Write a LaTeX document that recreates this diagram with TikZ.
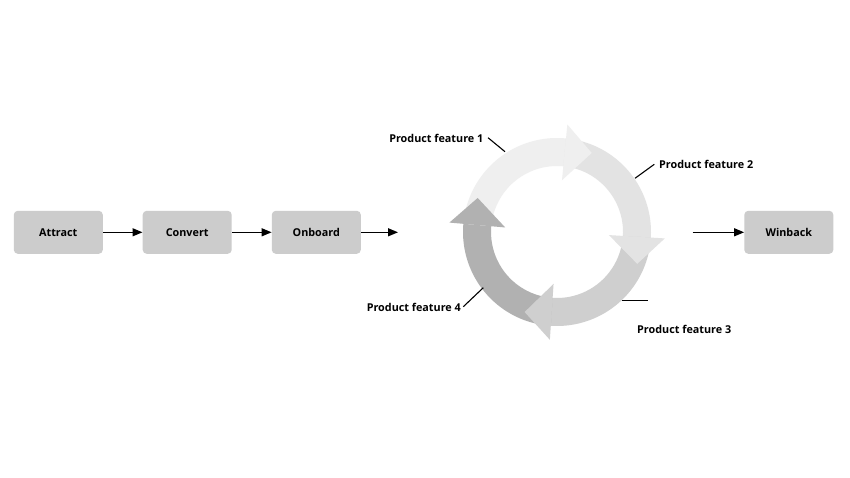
\documentclass[tikz,border=0pt]{standalone}
\usepackage{fontspec}
\setmainfont{Open Sans}
\usetikzlibrary{arrows.meta}
\definecolor{boxgray}{HTML}{CCCCCC}
\definecolor{cA}{HTML}{EFEFEF}
\definecolor{cB}{HTML}{E3E3E3}
\definecolor{cC}{HTML}{CFCFCF}
\definecolor{cD}{HTML}{B1B1B1}
\begin{document}
\begin{tikzpicture}[x=1pt,y=1pt,
  font=\fontsize{10.8}{13}\selectfont\bfseries,
  stagebox/.style={fill=boxgray,rounded corners=4pt,minimum width=89pt,minimum height=43pt,inner sep=0pt},
  flowarrow/.style={line width=1.3pt,-{Triangle[length=10pt,width=8pt]}},
  leader/.style={line width=1.1pt},
  lbl/.style={inner sep=0pt}]
\useasboundingbox (0,0) rectangle (850,-478);
\fill[white] (0,0) rectangle (850,-478);

% stage boxes
\node[stagebox] (attract) at (58.3,-232.3) {Attract};
\node[stagebox] (convert) at (187.2,-232.3) {Convert};
\node[stagebox] (onboard) at (316.3,-232.3) {Onboard};
\node[stagebox] (winback) at (788.8,-232.3) {Winback};
\coordinate (oend) at (398,-232.3);
\coordinate (wstart) at (692.7,-232.3);

\draw[flowarrow] (attract) -- (convert);
\draw[flowarrow] (convert) -- (onboard);
\draw[flowarrow] (onboard) -- (oend);
\draw[flowarrow] (wstart) -- (winback);

% cycle
\coordinate (c) at (557,-232);
\begin{scope}[shift={(c)}]
  \fill[cA] (175:94pt) arc[start angle=175,end angle=84.5,radius=94pt] -- (84.5:66pt) arc[start angle=84.5,end angle=175,radius=66pt] -- cycle;
  \fill[cB] (84.5:94pt) arc[start angle=84.5,end angle=-3.4,radius=94pt] -- (-3.4:66pt) arc[start angle=-3.4,end angle=84.5,radius=66pt] -- cycle;
  \fill[cC] (-3.4:94pt) arc[start angle=-3.4,end angle=-93.8,radius=94pt] -- (-93.8:66pt) arc[start angle=-93.8,end angle=-3.4,radius=66pt] -- cycle;
  \fill[cD] (-93.8:94pt) arc[start angle=-93.8,end angle=-185,radius=94pt] -- (-185:66pt) arc[start angle=-185,end angle=-93.8,radius=66pt] -- cycle;
  \fill[cA,rotate=-5.5] (0pt,52pt) -- (0pt,108pt) -- (27pt,82pt) -- cycle;
  \fill[cB,rotate=-93.4] (0pt,52pt) -- (0pt,108pt) -- (27pt,82pt) -- cycle;
  \fill[cC,rotate=176.2] (0pt,52pt) -- (0pt,108pt) -- (27pt,82pt) -- cycle;
  \fill[cD,rotate=85] (0pt,52pt) -- (0pt,108pt) -- (27pt,82pt) -- cycle;
\end{scope}

% labels
\node[lbl,anchor=east] (pf1) at (483.5,-138) {Product feature 1};
\node[lbl,anchor=west] (pf2) at (659,-164) {Product feature 2};
\node[lbl,anchor=west] (pf3) at (637,-329) {Product feature 3};
\node[lbl,anchor=east] (pf4) at (461,-307) {Product feature 4};

\coordinate (l1a) at (488,-137.7);
\coordinate (l1b) at (505,-151.7);
\coordinate (l2a) at (654.3,-164.3);
\coordinate (l2b) at (635,-178.3);
\coordinate (l3a) at (621.7,-300.7);
\coordinate (l3b) at (648.3,-300.7);
\coordinate (l4a) at (463.3,-306.7);
\coordinate (l4b) at (483.3,-287.7);
\draw[leader] (l1a) -- (l1b);
\draw[leader] (l2a) -- (l2b);
\draw[leader] (l3a) -- (l3b);
\draw[leader] (l4a) -- (l4b);
\end{tikzpicture}
\end{document}
